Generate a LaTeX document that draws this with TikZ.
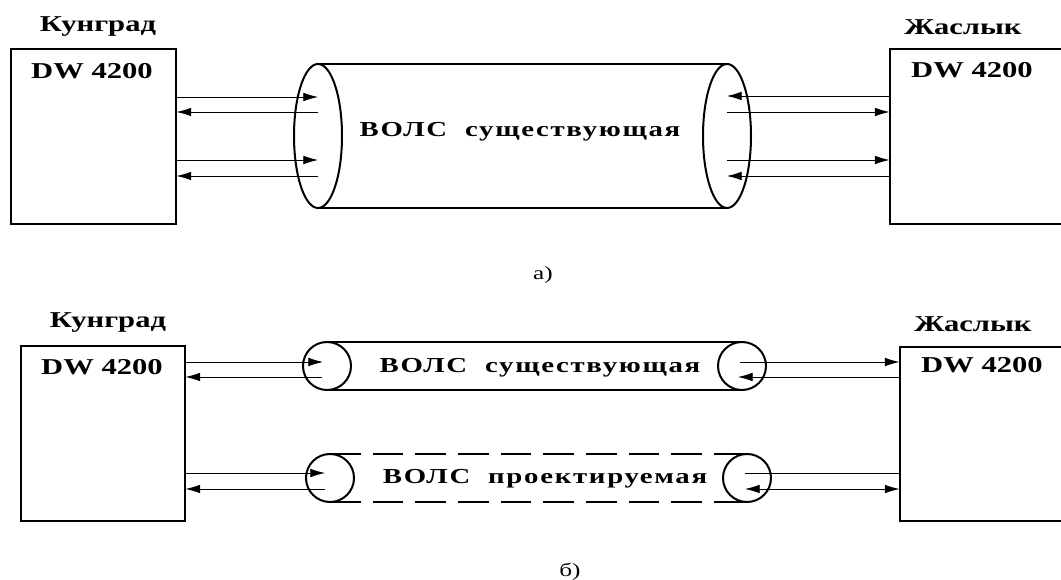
\documentclass[tikz,border=0pt]{standalone}
\usepackage{fontspec}
\setmainfont{Liberation Serif}[FakeStretch=1.35]
\usetikzlibrary{arrows.meta}
\tikzset{
  unitbox/.style={draw,line width=0.8pt,inner sep=0pt},
  place/.style={font=\fontsize{17}{20}\selectfont\bfseries,inner sep=0pt},
  cabletext/.style={font=\fontsize{16}{19}\selectfont\bfseries\addfontfeatures{LetterSpace=8},inner sep=0pt},
  sub/.style={font=\fontsize{14}{16}\selectfont,inner sep=0pt},
  fibre/.style={line width=0.6pt,-{Latex[length=11pt,width=6.5pt]}},
  fibreboth/.style={line width=0.6pt,{Latex[length=11pt,width=6.5pt]}-{Latex[length=11pt,width=6.5pt]}},
  cableend/.style={line width=1.5pt},
  cable/.style={line width=1.1pt},
}

\begin{document}
\begin{tikzpicture}[x=0.75pt,y=-0.75pt]
\useasboundingbox (0,0) rectangle (1061,580);

% a) existing line
\node[unitbox,minimum width=123.75pt,minimum height=131.25pt] (kungA) at (93.5,136.5) {};
\node[unitbox,minimum width=135pt,minimum height=131.25pt] (jasA) at (980,136.5) {};
\node[place] (kungAname) at (98,27) {Кунград};
\node[place] (jasAname) at (963,27) {Жаслык};
\node[place] (kungAdw) at (92,71) {DW 4200};
\node[place] (jasAdw) at (972,70) {DW 4200};

\coordinate (tubeAl) at (318,136);
\coordinate (tubeAr) at (727,136);
\draw[cable] (318,64) -- (727,64);
\draw[cable] (318,208) -- (727,208);
\draw[cableend] (tubeAl) ellipse [x radius=24, y radius=72];
\draw[cableend] (tubeAr) ellipse [x radius=24, y radius=72];
\node[cabletext] (tubeAname) at (520,132) {ВОЛС~ существующая};

\coordinate (al1) at (318,97);
\coordinate (al2) at (318,112);
\coordinate (al3) at (318,160);
\coordinate (al4) at (318,176);
\draw[fibre] (kungA.east |- al1) -- (al1);
\draw[fibre] (al2) -- (kungA.east |- al2);
\draw[fibre] (kungA.east |- al3) -- (al3);
\draw[fibre] (al4) -- (kungA.east |- al4);

\coordinate (ar1) at (727,96);
\coordinate (ar2) at (727,112);
\coordinate (ar3) at (727,160);
\coordinate (ar4) at (727,176);
\draw[fibre] (jasA.west |- ar1) -- (ar1);
\draw[fibre] (ar2) -- (jasA.west |- ar2);
\draw[fibre] (ar3) -- (jasA.west |- ar3);
\draw[fibre] (jasA.west |- ar4) -- (ar4);

\node[sub] (capA) at (543,275) {а)};

% b) existing and planned line
\node[unitbox,minimum width=123pt,minimum height=131.25pt] (kungB) at (103,433.5) {};
\node[unitbox,minimum width=131.25pt,minimum height=130.5pt] (jasB) at (987.5,434) {};
\node[place] (kungBname) at (108,323) {Кунград};
\node[place] (jasBname) at (973,324) {Жаслык};
\node[place] (kungBdw) at (102,367) {DW 4200};
\node[place] (jasBdw) at (982,365) {DW 4200};

\coordinate (tubeBl) at (327,366);
\coordinate (tubeBr) at (742,366);
\draw[cable] (327,342) -- (742,342);
\draw[cable] (327,390) -- (742,390);
\draw[cableend] (tubeBl) circle [radius=24];
\draw[cableend] (tubeBr) circle [radius=24];
\node[cabletext] (tubeBname) at (540,368) {ВОЛС~ существующая};

\coordinate (tubeCl) at (330,478);
\coordinate (tubeCr) at (747,478);
\draw[cable,dash pattern=on 23pt off 9pt] (330,454) -- (747,454);
\draw[cable,dash pattern=on 23pt off 9pt] (330,502) -- (747,502);
\draw[cableend] (tubeCl) circle [radius=24];
\draw[cableend] (tubeCr) circle [radius=24];
\node[cabletext] (tubeCname) at (545,479) {ВОЛС~ проектируемая};

\coordinate (bl1) at (323,362);
\coordinate (bl2) at (322,377);
\coordinate (bl3) at (325,473);
\coordinate (bl4) at (325,489);
\draw[fibre] (kungB.east |- bl1) -- (bl1);
\draw[fibre] (bl2) -- (kungB.east |- bl2);
\draw[fibre] (kungB.east |- bl3) -- (bl3);
\draw[fibre] (bl4) -- (kungB.east |- bl4);

\coordinate (br1) at (740,362);
\coordinate (br2) at (738,377);
\coordinate (br3) at (745,473);
\coordinate (br4) at (745,489);
\draw[fibre] (br1) -- (jasB.west |- br1);
\draw[fibre] (jasB.west |- br2) -- (br2);
\draw[line width=0.6pt] (br3) -- (jasB.west |- br3);
\draw[fibreboth] (br4) -- (jasB.west |- br4);

\node[sub] (capB) at (570,572) {б)};
\end{tikzpicture}
\end{document}
